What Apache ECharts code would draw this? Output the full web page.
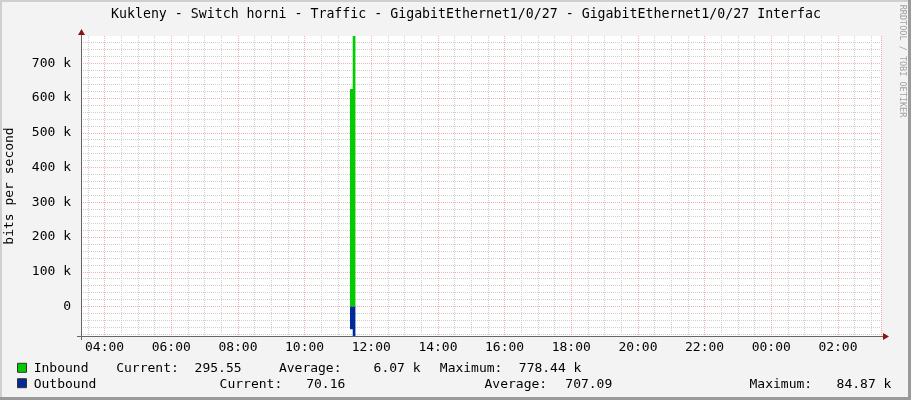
<!DOCTYPE html>
<html><head><meta charset="utf-8">
<script src="https://cdn.jsdelivr.net/npm/echarts@6/dist/echarts.min.js"></script>
<style>html,body{margin:0;padding:0;background:#f3f3f3}#c{width:911px;height:400px}</style>
</head><body><div id="c"></div><script>
// ---- data ----
const chartTitle = 'Kukleny - Switch horni - Traffic - GigabitEthernet1/0/27 - GigabitEthernet1/0/27 Interfac';
const yAxisTitle = 'bits per second';
const watermark = 'RRDTOOL / TOBI OETIKER';
// time axis in hours since midnight of the first day (values > 24 belong to the next day)
const timeStart = 3 + 17.5 / 60;
const timeEnd = timeStart + 24;
// sample end times (hours) – each value covers the interval ending at its time
const sampleTimes = [11.362, 11.443, 11.524, 27.29];
const inboundValues = [0, 626000, 778440, 295.55];     // bits per second
const outboundValues = [0, 65700, 84870, 70.16];       // bits per second (drawn below zero)
const legendNames = ['Inbound', 'Outbound'];
const legendCurrent = ['295.55', '70.16'];
const legendAverage = ['6.07 k', '707.09'];
const legendMaximum = ['778.44 k', '84.87 k'];

// ---- layout ----
const G = {left: 81, top: 36, width: 800, height: 300};
const mono = 'DejaVu Sans Mono';
const colors = ['#00cc00', '#002a97'];
const yMax = Math.max(...inboundValues);
const yMin = -Math.max(...outboundValues);

const chart = echarts.init(document.getElementById('c'), null, {renderer: 'canvas'});

function txt(x, y, s, opt) {
  return Object.assign({type: 'text', x: x, y: y, z: 50,
    style: Object.assign({text: s, fill: '#000', font: '13px "' + mono + '"', verticalAlign: 'middle', align: 'left'}, opt || {})});
}

const rowY = [368.8, 384.2];
const rowX = [
  {curL: 116.2, cur: 194.6, avgL: 278.9, avg: 373.6, maxL: 439.8, max: 518.8},
  {curL: 219.6, cur: 306.2, avgL: 484.5, avg: 565.3, maxL: 749.5, max: 836.6}
];
const graphics = [];
// frame
graphics.push({type: 'rect', shape: {x: 0, y: 0, width: 911, height: 2}, style: {fill: '#cfcfcf'}, z: 1});
graphics.push({type: 'rect', shape: {x: 0, y: 0, width: 2, height: 400}, style: {fill: '#cfcfcf'}, z: 1});
graphics.push({type: 'rect', shape: {x: 0, y: 397, width: 911, height: 3}, style: {fill: '#9a9a9a'}, z: 1});
graphics.push({type: 'rect', shape: {x: 908, y: 0, width: 3, height: 400}, style: {fill: '#9a9a9a'}, z: 1});
// title, axis name, watermark
graphics.push(txt(111, 14.3, chartTitle, {font: '13.25px "' + mono + '"'}));
graphics.push(txt(10, 186, yAxisTitle, {align: 'center'}));
graphics[graphics.length - 1].rotation = Math.PI / 2;
graphics.push(txt(902.5, 61, watermark, {align: 'center', fill: '#a0a0a0', font: '8.5px "' + mono + '"'}));
graphics[graphics.length - 1].rotation = -Math.PI / 2;
// legend
legendNames.forEach((n, i) => {
  const y = rowY[i], p = rowX[i];
  graphics.push({type: 'rect', shape: {x: 17.5, y: y - 5.5, width: 9, height: 9}, style: {fill: colors[i], stroke: '#333', lineWidth: 1}, z: 50});
  graphics.push(txt(33.7, y, n));
  graphics.push(txt(p.curL, y, 'Current:'));
  graphics.push(txt(p.cur, y, legendCurrent[i]));
  graphics.push(txt(p.avgL, y, 'Average:'));
  graphics.push(txt(p.avg, y, legendAverage[i]));
  graphics.push(txt(p.maxL, y, 'Maximum:'));
  graphics.push(txt(p.max, y, legendMaximum[i]));
});
// axis overhangs and arrows
const gx0 = G.left, gy1 = G.top + G.height, gx1 = G.left + G.width, gy0 = G.top;
graphics.push({type: 'line', shape: {x1: gx0 + 0.5, y1: gy1 + 4, x2: gx0 + 0.5, y2: gy0 - 4}, style: {stroke: '#666', lineWidth: 1}, z: 60});
graphics.push({type: 'line', shape: {x1: gx0 - 4, y1: gy1 + 0.5, x2: gx1 + 4, y2: gy1 + 0.5}, style: {stroke: '#666', lineWidth: 1}, z: 60});
graphics.push({type: 'polygon', shape: {points: [[gx1 + 2, gy1 - 3], [gx1 + 8, gy1 + 0.5], [gx1 + 2, gy1 + 4]]}, style: {fill: '#8b1414'}, z: 61});
graphics.push({type: 'polygon', shape: {points: [[gx0 - 3, gy0 - 1], [gx0 + 0.5, gy0 - 7], [gx0 + 4, gy0 - 1]]}, style: {fill: '#8b1414'}, z: 61});

const pairs = (vals, sign) => sampleTimes.map((t, i) => [t, sign * vals[i]]);

chart.setOption({
  backgroundColor: '#f3f3f3',
  animation: false,
  grid: {left: G.left, top: G.top, width: G.width, height: G.height, show: true, backgroundColor: '#ffffff', borderWidth: 0},
  xAxis: {
    type: 'value', min: timeStart, max: timeEnd, splitNumber: 12,
    axisLine: {show: false, onZero: false},
    axisTick: {show: false},
    axisLabel: {margin: 5, color: '#000', fontFamily: mono, fontSize: 13, showMinLabel: false, showMaxLabel: false,
      formatter: v => {
        if (Math.abs(v - Math.round(v)) > 1e-6) return '';
        const h = ((Math.round(v) % 24) + 24) % 24;
        return String(h).padStart(2, '0') + ':00';
      }},
    splitLine: {show: true, showMinLine: false, lineStyle: {color: 'rgba(230,80,80,0.45)', type: [1, 1], width: 1}},
    minorTick: {show: false, splitNumber: 4},
    minorSplitLine: {show: true, lineStyle: {color: '#cfcfcf', type: [1, 1], width: 1}}
  },
  yAxis: {
    type: 'value', min: yMin, max: yMax, splitNumber: 8,
    axisLine: {show: false},
    axisTick: {show: false},
    axisLabel: {margin: 10, color: '#000', fontFamily: mono, fontSize: 13, showMinLabel: false, showMaxLabel: false,
      formatter: v => {
        if (v === 0) return '0';
        if (Math.abs(v % 100000) > 1e-6) return '';
        return (v / 1000) + ' k';
      }},
    splitLine: {show: true, showMinLine: false, showMaxLine: false, lineStyle: {color: 'rgba(230,80,80,0.45)', type: [1, 1], width: 1}},
    minorTick: {show: false, splitNumber: 5},
    minorSplitLine: {show: true, lineStyle: {color: '#cfcfcf', type: [1, 1], width: 1}}
  },
  series: [
    {name: legendNames[0], type: 'line', step: 'start', data: pairs(inboundValues, 1), symbol: 'none',
      lineStyle: {width: 0}, areaStyle: {color: colors[0], opacity: 1}, z: 3},
    {name: legendNames[1], type: 'line', step: 'start', data: pairs(outboundValues, -1), symbol: 'none',
      lineStyle: {width: 0}, areaStyle: {color: colors[1], opacity: 1}, z: 3}
  ],
  graphic: {elements: graphics}
});
</script></body></html>
